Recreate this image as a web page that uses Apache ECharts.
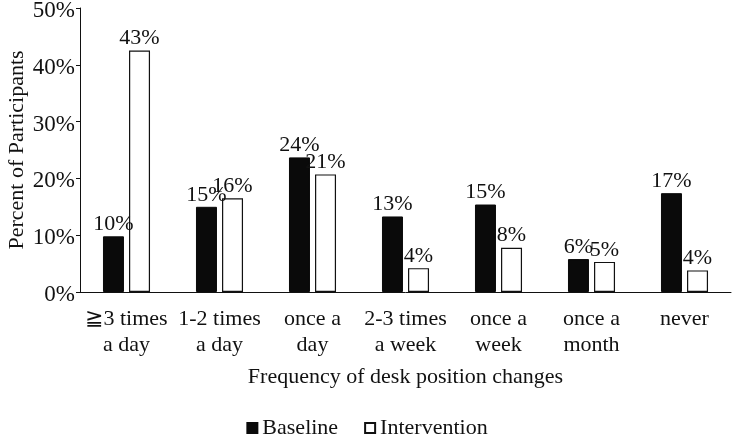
<!DOCTYPE html>
<html><head><meta charset="utf-8">
<script src="https://cdn.jsdelivr.net/npm/echarts@6/dist/echarts.min.js"></script>
<style>html,body{margin:0;padding:0;background:#fff}#c{width:734px;height:438px}</style>
</head><body><div id="c"></div>
<script>
const categories = ['≧3 times\na day', '1-2 times\na day', 'once a\nday', '2-3 times\na week', 'once a\nweek', 'once a\nmonth', 'never'];
const baseline = [9.8, 15.0, 23.7, 13.3, 15.4, 5.8, 17.4];
const intervention = [42.5, 16.5, 20.7, 4.2, 7.8, 5.3, 3.8];
const baselineLabels = ['10%', '15%', '24%', '13%', '15%', '6%', '17%'];
const interventionLabels = ['43%', '16%', '21%', '4%', '8%', '5%', '4%'];
const yTicks = [0, 10, 20, 30, 40, 50];

const font = 'Liberation Serif';
const chart = echarts.init(document.getElementById('c'));
chart.setOption({
  animation: false,
  textStyle: { fontFamily: font, color: '#111' },
  grid: { left: 80, right: 3, top: 8, bottom: 146, containLabel: false, outerBoundsMode: 'none' },
  legend: {
    top: 417, left: 'center', padding: 0, itemWidth: 10, itemHeight: 10, itemGap: 26,
    textStyle: { fontFamily: font, fontSize: 22, color: '#111' },
    data: [
      { name: 'Baseline', icon: 'rect' },
      { name: 'Intervention', icon: 'rect' }
    ]
  },
  xAxis: {
    type: 'category', data: categories,
    name: 'Frequency of desk position changes', nameLocation: 'middle', nameGap: 74,
    nameMoveOverlap: false,
    nameTextStyle: { fontFamily: font, fontSize: 22, color: '#111' },
    axisLine: { lineStyle: { color: '#111', width: 1 } },
    axisTick: { inside: true, length: 6, lineStyle: { color: '#111' } },
    axisLabel: { fontFamily: font, fontSize: 22, color: '#111', lineHeight: 26, margin: 14, interval: 0 }
  },
  yAxis: {
    type: 'value', min: 0, max: 50, interval: 10,
    name: 'Percent of Participants', nameLocation: 'middle', nameGap: 52,
    nameMoveOverlap: false,
    nameTextStyle: { fontFamily: font, fontSize: 22, color: '#111' },
    axisLine: { show: true, lineStyle: { color: '#111', width: 1 } },
    axisTick: { show: true, length: 4, lineStyle: { color: '#111' } },
    splitLine: { show: false },
    axisLabel: { color: '#111', margin: 5,
      formatter: v => yTicks.includes(v) ? '{t|' + v + '%}' : '',
      rich: { t: { fontFamily: font, fontSize: 23, color: '#111', padding: [6, 0, 0, 0] } } }
  },
  series: [
    {
      name: 'Baseline', type: 'bar', data: baseline, barWidth: 21, barGap: '24%',
      itemStyle: { color: '#0a0a0a', borderColor: '#0a0a0a', borderWidth: 1 },
      label: { show: true, position: 'top', distance: 1, fontFamily: font, fontSize: 22, color: '#111',
        formatter: p => baselineLabels[p.dataIndex] }
    },
    {
      name: 'Intervention', type: 'bar', data: intervention, barWidth: 21,
      itemStyle: { color: '#fff', borderColor: '#111', borderWidth: 1.2 },
      label: { show: true, position: 'top', distance: 1, fontFamily: font, fontSize: 22, color: '#111',
        formatter: p => interventionLabels[p.dataIndex] }
    }
  ]
});
</script></body></html>
